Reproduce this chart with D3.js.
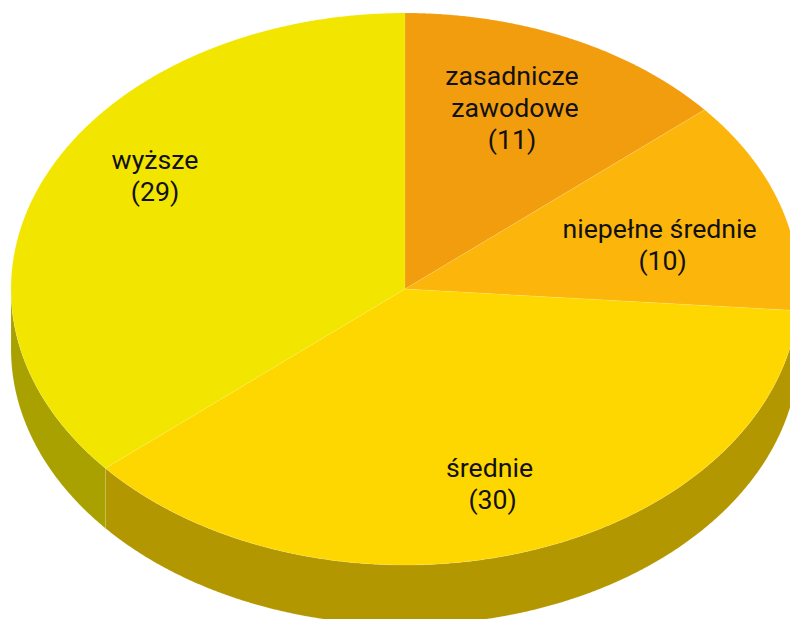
<!DOCTYPE html>
<html><head><meta charset="utf-8">
<style>html,body{margin:0;padding:0;background:#fff;overflow:hidden}svg{display:block}</style>
<script src="https://cdn.jsdelivr.net/npm/d3@7"></script></head>
<body><script>
const categories = ["zasadnicze zawodowe", "niepełne średnie", "średnie", "wyższe"];
const values = [11, 10, 30, 29];
const labelLines = [["zasadnicze", "zawodowe", "(11)"], ["niepełne średnie", "(10)"], ["średnie", "(30)"], ["wyższe", "(29)"]];
const topColors = ["#f29d0e", "#fcb60b", "#ffd700", "#f2e600"];
const sideColors = ["#aa6e0a", "#b07f08", "#b39700", "#a9a100"];

const W = 790, H = 619, cx = 405, cy = 289, rx = 394, ry = 276, depth = 60;
const labelCenters = [[512, 109.4], [659.6, 246], [489.6, 485], [155, 177]];
const lineShifts = [[0, 3, 0], [0, 3], [0, 3], [0, 0]];

const px = d3.scaleLinear().domain([-1, 1]).range([cx - rx, cx + rx]);
const py = d3.scaleLinear().domain([-1, 1]).range([cy - ry, cy + ry]);
const pt = (a, r = 1) => [px(r * Math.sin(a)), py(-r * Math.cos(a))];

const svg = d3.select("body").append("svg").attr("width", W).attr("height", H);
const slices = d3.pie().sort(null)(values);
const line = d3.line();
const step = 0.005;
const sample = (a0, a1) => d3.range(a0, a1, step).concat([a1]);

const walls = svg.append("g");
slices.forEach((s, i) => {
  const a0 = Math.max(s.startAngle, Math.PI / 2), a1 = Math.min(s.endAngle, 3 * Math.PI / 2);
  if (a1 <= a0) return;
  const rim = sample(a0, a1).map(a => pt(a));
  const low = rim.map(([x, y]) => [x, y + depth]).reverse();
  walls.append("path").attr("d", line(rim.concat(low)) + "Z")
    .attr("fill", sideColors[i]).attr("stroke", "#ffffff").attr("stroke-opacity", 0.2).attr("stroke-width", 0.5);
});

const tops = svg.append("g");
slices.forEach((s, i) => {
  const rim = sample(s.startAngle, s.endAngle).map(a => pt(a));
  tops.append("path").attr("d", line([pt(0, 0)].concat(rim)) + "Z")
    .attr("fill", topColors[i]).attr("stroke", "#ffffff").attr("stroke-opacity", 0.2).attr("stroke-width", 0.5);
});

const lh = 32;
labelLines.forEach((lines, i) => {
  const [lx, ly] = labelCenters[i];
  const t = svg.append("text").attr("text-anchor", "middle")
    .attr("font-family", "Roboto, sans-serif").attr("font-size", 26.67).attr("fill", "#111");
  lines.forEach((l, k) => {
    t.append("tspan").attr("x", lx + lineShifts[i][k]).attr("y", ly + (k - (lines.length - 1) / 2) * lh + 8).text(l);
  });
  t.append("title").text(categories[i]);
});
</script></body></html>
